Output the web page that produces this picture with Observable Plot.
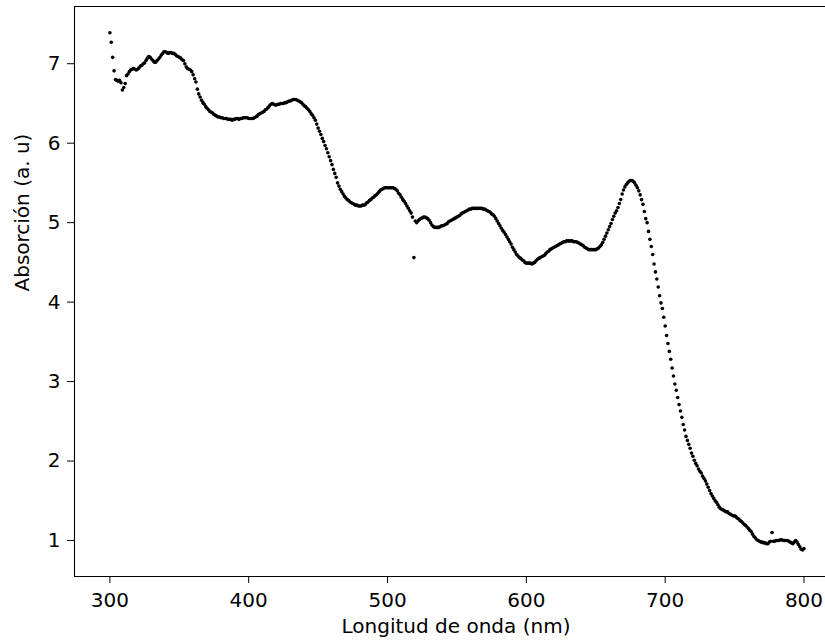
<!DOCTYPE html>
<html>
<head>
<meta charset="utf-8">
<script src="https://cdn.jsdelivr.net/npm/d3@7"></script>
<script src="https://cdn.jsdelivr.net/npm/@observablehq/plot@0.6"></script>
<style>
  html, body { margin: 0; padding: 0; background: white; }
</style>
</head>
<body>
<div id="chart"></div>
<script>
// Axis texts
const xLabel = "Longitud de onda (nm)";
const yLabel = "Absorción (a. u)";
const xTicks = [300, 400, 500, 600, 700, 800];
const yTicks = [1, 2, 3, 4, 5, 6, 7];
const xDomain = [274.5, 815.5];
const yDomain = [0.547, 7.72];

// Spectrometer sampling: one reading per nm, from 300 to 800 nm
const startNm = 300;

// Absorbance, 1 nm apart
const abs300 = [
  7.39,7.27,7.08,6.91,6.80,6.79,6.78,6.79,6.76,6.67,
  6.70,6.75,6.85,6.87,6.90,6.92,6.93,6.94,6.93,6.92,
  6.93,6.95,6.97,6.98,7.00,7.01,7.04,7.07,7.09,7.08,
  7.06,7.04,7.02,7.02,7.04,7.06,7.08,7.11,7.13,7.15,
  7.15,7.14,7.13,7.14,7.14,7.13,7.13,7.12,7.10,7.09
];
const abs350 = [
  7.08,7.07,7.05,7.04,7.00,6.96,6.94,6.93,6.92,6.90,
  6.86,6.81,6.77,6.68,6.62,6.58,6.54,6.51,6.49,6.46,
  6.44,6.42,6.40,6.39,6.38,6.36,6.35,6.34,6.33,6.33,
  6.32,6.32,6.31,6.31,6.31,6.30,6.30,6.30,6.29,6.30,
  6.30,6.31,6.31,6.30,6.31,6.31,6.32,6.32,6.32,6.32
];
const abs400 = [
  6.31,6.31,6.31,6.31,6.32,6.33,6.34,6.36,6.37,6.38,
  6.39,6.40,6.42,6.43,6.45,6.47,6.49,6.50,6.49,6.48,
  6.48,6.49,6.49,6.50,6.50,6.50,6.51,6.51,6.52,6.53,
  6.53,6.54,6.55,6.55,6.55,6.54,6.53,6.52,6.51,6.49,
  6.47,6.46,6.44,6.42,6.40,6.37,6.35,6.32,6.29,6.24
];
const abs450 = [
  6.19,6.15,6.11,6.06,6.02,5.97,5.93,5.88,5.83,5.78,
  5.73,5.67,5.62,5.57,5.50,5.46,5.42,5.39,5.36,5.33,
  5.31,5.29,5.28,5.26,5.25,5.24,5.23,5.22,5.22,5.21,
  5.21,5.21,5.22,5.22,5.23,5.25,5.26,5.28,5.29,5.31,
  5.32,5.34,5.35,5.37,5.39,5.41,5.42,5.43,5.44,5.44
];
const abs500 = [
  5.44,5.44,5.44,5.44,5.44,5.43,5.42,5.40,5.37,5.35,
  5.32,5.29,5.27,5.24,5.21,5.18,5.15,5.12,5.07,4.56,
  5.02,5.00,5.02,5.04,5.05,5.06,5.07,5.07,5.06,5.05,
  5.03,5.00,4.97,4.95,4.94,4.94,4.94,4.94,4.95,4.96,
  4.96,4.97,4.98,4.99,5.01,5.02,5.03,5.04,5.05,5.06
];
const abs550 = [
  5.07,5.08,5.09,5.11,5.12,5.13,5.14,5.15,5.16,5.17,
  5.17,5.18,5.18,5.18,5.18,5.18,5.18,5.18,5.18,5.17,
  5.17,5.16,5.15,5.14,5.13,5.11,5.10,5.08,5.05,5.02,
  4.99,4.96,4.93,4.90,4.88,4.85,4.82,4.79,4.76,4.73,
  4.69,4.66,4.63,4.60,4.58,4.56,4.55,4.53,4.52,4.50
];
const abs600 = [
  4.49,4.49,4.49,4.49,4.48,4.49,4.50,4.52,4.54,4.55,
  4.56,4.57,4.58,4.59,4.61,4.63,4.64,4.66,4.67,4.68,
  4.69,4.70,4.71,4.72,4.73,4.74,4.75,4.76,4.76,4.77,
  4.77,4.77,4.77,4.77,4.76,4.76,4.76,4.75,4.74,4.73,
  4.72,4.71,4.69,4.68,4.67,4.66,4.66,4.66,4.66,4.66
];
const abs650 = [
  4.66,4.67,4.68,4.70,4.72,4.75,4.79,4.83,4.87,4.91,
  4.95,4.99,5.04,5.08,5.12,5.15,5.19,5.24,5.29,5.36,
  5.41,5.45,5.48,5.50,5.52,5.53,5.53,5.52,5.50,5.47,
  5.44,5.40,5.35,5.29,5.23,5.14,5.05,5.00,4.89,4.79,
  4.70,4.60,4.48,4.38,4.29,4.19,4.08,3.99,3.92,3.81
];
const abs700 = [
  3.70,3.58,3.48,3.38,3.28,3.17,3.07,2.97,2.89,2.80,
  2.71,2.63,2.55,2.46,2.39,2.31,2.26,2.21,2.16,2.10,
  2.06,2.01,1.97,1.94,1.90,1.87,1.85,1.81,1.78,1.75,
  1.71,1.67,1.63,1.59,1.56,1.53,1.50,1.48,1.45,1.42,
  1.40,1.39,1.38,1.37,1.36,1.36,1.34,1.33,1.32,1.31
];
const abs750 = [
  1.31,1.30,1.28,1.27,1.25,1.24,1.22,1.20,1.19,1.17,
  1.15,1.13,1.11,1.08,1.05,1.03,1.01,1.00,0.99,0.98,
  0.98,0.97,0.97,0.96,0.96,0.98,0.99,1.10,0.99,0.99,
  1.00,1.00,1.00,1.01,1.01,1.00,1.00,1.00,1.00,0.99,
  0.98,0.97,0.96,0.98,1.00,0.98,0.95,0.92,0.89,0.88,
  0.90
];

const absorbance = [].concat(abs300, abs350, abs400, abs450, abs500,
                             abs550, abs600, abs650, abs700, abs750);
const data = absorbance.map((a, i) => ({ nm: startNm + i, a }));

const chart = Plot.plot({
  width: 825,
  height: 644,
  marginLeft: 74,
  marginRight: 0,
  marginTop: 6,
  marginBottom: 68,
  style: { fontFamily: "DejaVu Sans", fontSize: "20px", color: "black", background: "white" },
  x: { domain: xDomain, ticks: xTicks, tickSize: 7, tickPadding: 9, label: null, tickFormat: d => String(d) },
  y: { domain: yDomain, ticks: yTicks, tickSize: 7, tickPadding: 7, label: null, tickFormat: d => String(d) },
  marks: [
    Plot.dot(data, { x: "nm", y: "a", r: 1.8, fill: "black", stroke: null }),
    Plot.ruleX([xDomain[0]], { stroke: "black", strokeWidth: 1.1 }),
    Plot.ruleY(yDomain, { stroke: "black", strokeWidth: 1.1 }),
    Plot.text([xLabel], { text: d => d, frameAnchor: "bottom", dy: 56, dx: 6, fontSize: 20, fill: "black" }),
    Plot.text([yLabel], { text: d => d, frameAnchor: "left", rotate: -90, dx: -52, fontSize: 20, fill: "black" })
  ]
});
document.getElementById("chart").appendChild(chart);
</script>
</body>
</html>
